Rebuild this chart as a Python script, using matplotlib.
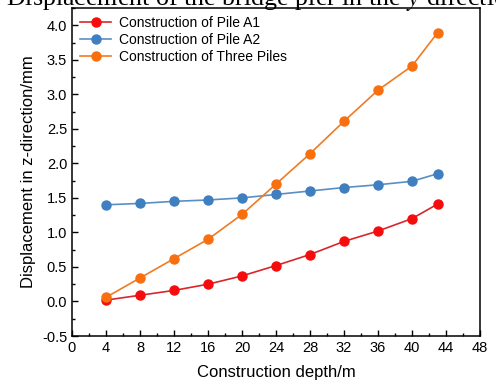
import matplotlib.pyplot as plt
from matplotlib.ticker import MultipleLocator

# construction depth (m) and vertical displacement (mm)
depth = [4, 8, 12, 16, 20, 24, 28, 32, 36, 40, 43]
pile_a1 = [0.02, 0.09, 0.16, 0.25, 0.37, 0.52, 0.68, 0.87, 1.02, 1.20, 1.41]
pile_a2 = [1.40, 1.42, 1.45, 1.47, 1.50, 1.55, 1.60, 1.65, 1.69, 1.74, 1.85]
three_piles = [0.06, 0.34, 0.62, 0.90, 1.26, 1.70, 2.14, 2.61, 3.06, 3.41, 3.89]

plt.rcParams['font.family'] = ['Liberation Sans', 'DejaVu Sans']
plt.rcParams['mathtext.fontset'] = 'stix'

fig = plt.figure(figsize=(4.96, 3.83), dpi=100)
ax = fig.add_axes([72/496, 47/383, 408/496, 328/383])

ax.plot(depth, pile_a1, '-o', color='#d9262b', mfc='#f50d0d', mec='#f50d0d',
        ms=6.5, lw=1.2, label='Construction of Pile A1')
ax.plot(depth, pile_a2, '-o', color='#5a8fc4', mfc='#3f7fc0', mec='#3f7fc0',
        ms=6.5, lw=1.2, label='Construction of Pile A2')
ax.plot(depth, three_piles, '-o', color='#f07b24', mfc='#f86f10', mec='#f86f10',
        ms=6.5, lw=1.2, label='Construction of Three Piles')

ax.set_xlim(0, 48)
ax.set_ylim(-0.5, 4.25)
ax.xaxis.set_major_locator(MultipleLocator(4))
ax.xaxis.set_minor_locator(MultipleLocator(2))
ax.yaxis.set_major_locator(MultipleLocator(0.5))
ax.yaxis.set_minor_locator(MultipleLocator(0.25))
ax.yaxis.set_major_formatter(plt.FormatStrFormatter('%.1f'))
ax.tick_params(which='both', direction='in', labelsize=10.5, width=1)
ax.tick_params(which='major', length=4)
ax.tick_params(which='minor', length=2)
for s in ax.spines.values():
    s.set_linewidth(1.1)

ax.set_xlabel('Construction depth/m', fontsize=12, labelpad=7)
ax.set_ylabel('Displacement in z-direction/mm', fontsize=12, labelpad=4)

ax.legend(loc='upper left', frameon=False, fontsize=10, handlelength=2.2,
          borderaxespad=0.2, labelspacing=0.19, handletextpad=0.6)

fig.text(6/496, 0.986, 'Displacement of the bridge pier in the $y$-direction',
         family='Liberation Serif', fontsize=18.7, ha='left', va='baseline')

fig.savefig('out.png', dpi=100)
